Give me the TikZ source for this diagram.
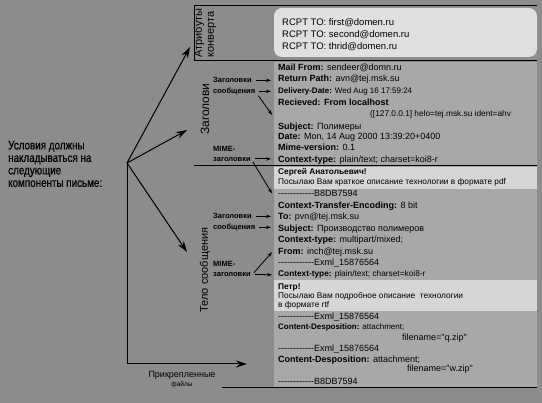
\documentclass[tikz,border=0pt]{standalone}
\usepackage{fontspec}
\setmainfont{Liberation Sans}[Ligatures=TeXOff]
\newfontfamily\narrowfont{Liberation Sans}[Ligatures=TeXOff,FakeStretch=0.8,FakeBold=0.6]
\usetikzlibrary{positioning,arrows.meta}
\definecolor{bg}{gray}{0.55}
\definecolor{panel}{gray}{0.66}
\definecolor{envbox}{gray}{0.88}
\definecolor{hilite}{gray}{0.84}
\begin{document}
\begin{tikzpicture}
  [x=1pt,y=-1pt,
   every node/.style={inner sep=0pt,anchor=base west,font=\fontsize{9}{11}\selectfont},
   small/.style={font=\fontsize{8.3}{10}\selectfont},
   env/.style={font=\fontsize{9.5}{11}\selectfont},
   tag/.style={font=\fontsize{7.5}{9}\selectfont\bfseries},
   side/.style={rotate=90,anchor=center,align=left,font=\fontsize{11}{12}\selectfont},
   big/.style={-{Stealth[length=11pt,width=7pt]},line width=1pt},
   sm/.style={-{Stealth[length=5pt,width=3.5pt]},line width=0.8pt}]

  \fill[bg] (0,0) rectangle (542,403);
  \useasboundingbox (0,0) rectangle (542,403);
  \fill[panel] (274,62) rectangle (537,388);
  \fill[envbox,rounded corners=8pt] (274,8) rectangle (537,57);
  \fill[hilite] (274,167) rectangle (537,189);
  \fill[hilite] (274,280) rectangle (537,311);
  \draw[line width=1pt] (194,60) -- (194,6) -- (537,6);
  \draw[line width=1pt] (194,61) -- (537,61);
  \draw[line width=1pt] (194,166) -- (537,166);
  \draw[line width=1pt] (222,388) -- (537,388);

  % left side
  \node (cond) [anchor=west,align=left,font=\narrowfont\fontsize{12.3}{12.5}\selectfont] at (8,164)
    {Условия должны\\накладываться на\\следующие\\компоненты письме:};
  \coordinate (hub) at (127,163);
  \coordinate (t1) at (190,47);
  \coordinate (t2) at (187,130);
  \coordinate (t3) at (187,252);
  \coordinate (t4) at (247,364);
  \foreach \t in {t1,t2,t3}
    \draw[big] (hub) -- (\t);
  \draw[big] (hub) |- (t4);

  \node (lenv) [side] at (205,33) {Атрибуты\\конверта};
  \node (lhdr) [side,font=\fontsize{12}{12}\selectfont] at (205,109) {Заголови};
  \node (lbody) [side] at (205,270) {Тело сообщения};
  \node (latt) [anchor=center] at (182,375) {Прикрепленные};
  \node (latt2) [anchor=center,font=\fontsize{6.5}{7}\selectfont] at (182,385) {файлы};

  % envelope
  \node (r1) [env] at (282,25.5) {RCPT TO: first@domen.ru};
  \node (r2) [env] at (282,37.5) {RCPT TO: second@domen.ru};
  \node (r3) [env] at (282,49.5) {RCPT TO: thrid@domen.ru};

  % headers
  \node (mf) at (278,70.5) {\textbf{Mail From:} sendeer@domn.ru};
  \node (rp) at (278,82) {\textbf{Return Path:} avn@tej.msk.su};
  \node (dd) [font=\fontsize{8}{10}\selectfont] at (278,94) {\textbf{Delivery-Date:} Wed Aug 16 17:59:24};
  \node (rcv) at (278,106) {\textbf{Recieved: From localhost}};
  \node (idt) [small] at (370,117) {([127.0.0.1] helo=tej.msk.su ident=ahv};
  \node (sbj) at (278,129.5) {\textbf{Subject:} Полимеры};
  \node (dt) at (278,139.5) {\textbf{Date:} Mon, 14 Aug 2000 13:39:20+0400};
  \node (mv) at (278,150.5) {\textbf{Mime-version:} 0.1};
  \node (ct) at (278,162.5) {\textbf{Context-type:} plain/text; charset=koi8-r};

  % body
  \node (sa) [small] at (278,175) {\textbf{Сергей Анатольевич!}};
  \node (ps1) [small] at (278,185) {Посылаю Вам краткое описание технологии в формате pdf};
  \node (b1) at (278,196.5) {------------B8DB7594};
  \node (cte) at (278,208.5) {\textbf{Context-Transfer-Encoding:} 8 bit};
  \node (to) at (278,219.5) {\textbf{To:} pvn@tej.msk.su};
  \node (sb2) at (278,231.5) {\textbf{Subject:} Производство полимеров};
  \node (ct2) at (278,242.5) {\textbf{Context-type:} multipart/mixed;};
  \node (fr) at (278,254.5) {\textbf{From:} inch@tej.msk.su};
  \node (ex1) at (278,265.5) {------------Exml\_15876564};
  \node (ct3) [small] at (278,277) {\textbf{Context-type:} plain/text; charset=koi8-r};
  \node (pt) [small] at (278,290) {\textbf{Петр!}};
  \node (ps2) [small] at (278,299) {Посылаю Вам подробное описание \ технологии};
  \node (ps3) [small] at (278,308) {в формате rtf};
  \node (ex2) at (278,319.5) {------------Exml\_15876564};
  \node (cd1) [font=\fontsize{8}{10}\selectfont] at (278,330) {\textbf{Content-Desposition:} attachment;};
  \node (fn1) at (402,340.5) {filename="q.zip"};
  \node (ex3) at (278,351.5) {------------Exml\_15876564};
  \node (cd2) at (278,362.5) {\textbf{Content-Desposition:} attachment;};
  \node (fn2) at (407,372) {filename="w.zip"};
  \node (b2) at (278,384.5) {------------B8DB7594};

  % small labels
  \node (hs1) [tag] at (213,83) {Заголовки};
  \node (hs2) [tag] at (213,94) {сообщения};
  \node (mh1) [tag] at (213,152) {MIME-};
  \node (mh2) [tag] at (213,161.5) {заголовки};
  \node (bs1) [tag] at (213,219) {Заголовки};
  \node (bs2) [tag] at (213,230) {сообщения};
  \node (bm1) [tag] at (213,267) {MIME-};
  \node (bm2) [tag] at (213,277) {заголовки};

  \foreach \a/\b in {hs1/rp, hs2/dd, mh2/ct, bs1/to, bs2/sb2}
    \draw[sm] ([xshift=4pt]\a.mid east) -- ([xshift=-7pt]\a.mid east -| \b.west);
  \draw[sm] ([xshift=3pt]hs2.south east) -- ([xshift=-6pt]idt.west -| rcv.west);
  \draw[sm] ([xshift=2pt]mh2.south east) -- ([xshift=-6pt]b1.west);
  \draw[sm] ([xshift=3pt]bm2.north east) -- ([xshift=-6pt]fr.west);
  \draw[sm] ([xshift=4pt]bm2.mid east) -- ([xshift=-6pt]ct3.west);
\end{tikzpicture}
\end{document}
